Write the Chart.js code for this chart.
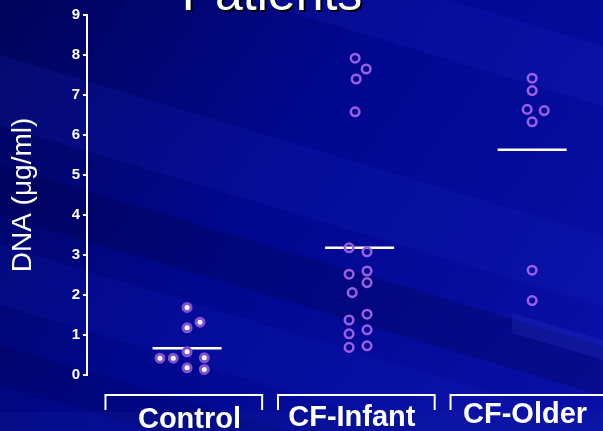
<!DOCTYPE html>
<html>
<head>
<meta charset="utf-8">
<script src="https://cdn.jsdelivr.net/npm/chart.js@4/dist/chart.umd.min.js"></script>
<style>
  html, body { margin: 0; padding: 0; background: #000880; }
  #wrap { width: 603px; height: 431px; }
</style>
</head>
<body>
<div id="wrap"><canvas id="chart" width="603" height="431"></canvas></div>
<script>
// groups along the x axis (0, 1, 2)
const groups = ["Control", "CF-Infant", "CF-Older"];
const yTicks = [0, 1, 2, 3, 4, 5, 6, 7, 8, 9];

// each point: x = group index + small horizontal spread, y = DNA (ug/ml)
const controlX = [0, 0.075, 0, 0, -0.157, -0.08, 0.1, 0, 0.1];
const controlY = [1.69, 1.32, 1.18, 0.58, 0.42, 0.42, 0.43, 0.18, 0.14];

const infantX = [0.974, 1.038, 0.98, 0.974, 0.939, 1.043, 0.939, 1.043, 1.043, 0.957, 0.939, 1.043, 0.939, 1.043, 0.939, 1.043];
const infantY = [7.92, 7.65, 7.4, 6.58, 3.18, 3.08, 2.52, 2.6, 2.31, 2.06, 1.375, 1.52, 1.03, 1.13, 0.69, 0.73];

const olderX = [2, 2, 1.971, 2.07, 2, 2, 2];
const olderY = [7.42, 7.11, 6.64, 6.61, 6.33, 2.62, 1.86];

// median for each group
const medians = [0.67, 3.18, 5.63];

function pts(xs, ys) {
  return xs.map((x, i) => ({ x: x, y: ys[i] }));
}

function medianLine(i) {
  return {
    type: 'line',
    data: [{ x: i - 0.2, y: medians[i] }, { x: i + 0.2, y: medians[i] }],
    borderColor: '#ffffff',
    borderWidth: 2.5,
    pointRadius: 0,
    fill: false
  };
}

// background with diagonal streaks, title, brackets under the groups
const bgPlugin = {
  id: 'bg',
  beforeDraw(chart) {
    const c = chart.ctx;
    const w = chart.width, h = chart.height;
    c.save();
    const g = c.createLinearGradient(0, 0, w, h);
    g.addColorStop(0, '#00045a');
    g.addColorStop(0.45, '#000890');
    g.addColorStop(1, '#0a10a8');
    c.fillStyle = g;
    c.fillRect(0, 0, w, h);
    const bands = [
      [-50, 40, 70, 'rgba(30,40,200,0.18)'],
      [-50, 150, 50, 'rgba(0,0,60,0.25)'],
      [-50, 230, 60, 'rgba(30,40,210,0.15)'],
      [-50, 330, 40, 'rgba(0,0,70,0.2)'],
      [150, -90, 60, 'rgba(40,50,220,0.15)']
    ];
    bands.forEach(b => {
      c.fillStyle = b[3];
      c.beginPath();
      c.moveTo(b[0], b[1]);
      c.lineTo(w + 50, b[1] + 0.3 * (w + 50 - b[0]));
      c.lineTo(w + 50, b[1] + b[2] + 0.3 * (w + 50 - b[0]));
      c.lineTo(b[0], b[1] + b[2]);
      c.closePath();
      c.fill();
    });
    c.fillStyle = 'rgba(60,70,230,0.18)';
    c.beginPath();
    c.moveTo(512, 313);
    c.lineTo(603, 340);
    c.lineTo(603, 360);
    c.lineTo(512, 333);
    c.closePath();
    c.fill();
    c.fillStyle = 'rgba(20,30,150,0.25)';
    c.fillRect(0, 412, w, h - 412);
    c.restore();
  },
  afterDraw(chart) {
    const c = chart.ctx;
    const xs = chart.scales.x;
    c.save();
    // clipped slide title
    c.font = '50px Arial, "Liberation Sans", sans-serif';
    c.textAlign = 'center';
    c.textBaseline = 'alphabetic';
    c.fillStyle = '#000000';
    c.fillText('Patients', 274, 12);
    c.fillStyle = '#ffffff';
    c.fillText('Patients', 272, 10);

    // brackets and group labels
    const labelY = [428, 426, 423];
    const labelShift = [0.014, -0.045, -0.041];
    c.strokeStyle = '#ffffff';
    c.lineWidth = 2;
    c.fillStyle = '#ffffff';
    c.font = 'bold 29px Arial, "Liberation Sans", sans-serif';
    groups.forEach((name, i) => {
      const x1 = xs.getPixelForValue(i - 0.473);
      const x2 = xs.getPixelForValue(i + 0.435);
      c.beginPath();
      c.moveTo(x1, 410);
      c.lineTo(x1, 395);
      c.lineTo(x2, 395);
      c.lineTo(x2, 410);
      c.stroke();
      c.fillText(name, xs.getPixelForValue(i + labelShift[i]), labelY[i]);
    });
    c.restore();
  }
};

const ctx = document.getElementById('chart').getContext('2d');
new Chart(ctx, {
  type: 'scatter',
  data: {
    datasets: [
      {
        data: pts(controlX, controlY),
        backgroundColor: '#ffffff',
        borderColor: '#8450d0',
        borderWidth: 3,
        pointRadius: 4
      },
      {
        data: pts(infantX, infantY),
        backgroundColor: 'rgba(0,0,0,0)',
        borderColor: '#9a60e0',
        borderWidth: 2.5,
        pointRadius: 4.3
      },
      {
        data: pts(olderX, olderY),
        backgroundColor: 'rgba(0,0,0,0)',
        borderColor: '#9a60e0',
        borderWidth: 2.5,
        pointRadius: 4.3
      },
      medianLine(0),
      medianLine(1),
      medianLine(2)
    ]
  },
  options: {
    responsive: false,
    animation: false,
    layout: { padding: { top: 15, bottom: 56, left: 0, right: 0 } },
    plugins: {
      legend: { display: false },
      tooltip: { enabled: false }
    },
    scales: {
      x: {
        type: 'linear',
        min: -0.58,
        max: 2.37,
        display: false
      },
      y: {
        min: 0,
        max: 9,
        afterBuildTicks: (scale) => { scale.ticks = yTicks.map(v => ({ value: v })); },
        afterFit: (scale) => { scale.width = 87; },
        ticks: {
          color: '#ffffff',
          font: { family: 'Arial, "Liberation Sans", sans-serif', size: 15, weight: 'bold' },
          padding: 3
        },
        border: { color: '#ffffff', width: 2 },
        grid: { drawOnChartArea: false, color: '#ffffff', lineWidth: 2, tickLength: 4 },
        title: {
          display: true,
          text: 'DNA (μg/ml)',
          color: '#ffffff',
          font: { family: 'Arial, "Liberation Sans", sans-serif', size: 28 },
          padding: { top: 6 }
        }
      }
    }
  },
  plugins: [bgPlugin]
});
</script>
</body>
</html>
